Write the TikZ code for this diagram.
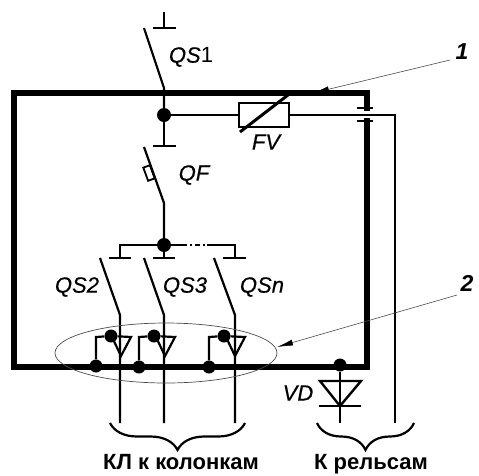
\documentclass[tikz,border=0pt]{standalone}
\usepackage{fontspec}
\setmainfont{Liberation Sans}
\newfontfamily\schemefont[ItalicFeatures={FakeBold=0.4}]{Liberation Sans}
\usetikzlibrary{decorations.pathreplacing,shapes.geometric,arrows.meta}
\begin{document}
\begin{tikzpicture}[x=1pt,y=-1pt,
    wire/.style={line width=2.2pt},
    bar/.style={line width=2.8pt},
    bus/.style={line width=6.5pt,line cap=rect},
    pointer/.style={line width=0.6pt,black!70},
    dot/.style={shape=circle,fill=black,inner sep=0pt,minimum size=14pt},
    smalldot/.style={shape=circle,fill=black,inner sep=0pt,minimum size=13pt},
    label/.style={font=\fontsize{22}{22}\selectfont\schemefont\itshape,inner sep=0pt},
    caption/.style={font=\fontsize{22}{22}\selectfont\bfseries,inner sep=0pt,anchor=base},
    marker/.style={font=\fontsize{23}{23}\selectfont\bfseries\itshape,inner sep=0pt},
    bracket/.style={line width=2.2pt,decorate,decoration={brace,mirror,amplitude=27pt}}]
    \useasboundingbox (0,0) rectangle (479,475);
    \node[dot] (top) at (164,115) {};
    \node[dot] (split) at (164,245) {};
    \node[smalldot] (d1) at (96,366) {};
    \node[smalldot] (d2) at (139,367) {};
    \node[smalldot] (d3) at (209,367) {};
    \node[smalldot] (d4) at (340,365) {};
    \node[smalldot] (g1) at (111,336) {};
    \node[smalldot] (g2) at (154,336) {};
    \node[smalldot] (g3) at (224,336) {};
    \node[draw=black,line width=2.4pt,minimum width=50pt,minimum height=24pt,inner sep=0pt] (fv) at (264,115) {};

    \coordinate (nw) at (14,93);
    \coordinate (ne) at (367,93);
    \coordinate (sw) at (14,367);
    \coordinate (se) at (367,367);
    \coordinate (capa) at (367,108);
    \coordinate (capb) at (367,121);
    \coordinate (railtop) at (395,115);
    \coordinate (railend) at (395,423);
    \coordinate (one) at (450,60);
    \coordinate (onetip) at (313,93);
    \coordinate (two) at (457,295);
    \coordinate (twotip) at (277,347);

    % frame
    \draw[bus] (capa) -- (ne) -- (nw) -- (sw) -- (se) -- (capb);
    \draw[bar] (357,108) -- (373,108);
    \draw[bar] (357,121) -- (373,121);

    % incoming
    \draw[wire] (164,12) -- (164,28);
    \draw[bar] (153,28) -- (176,28);
    \draw[wire] (144,28) -- (164,88) -- (top);
    \draw[wire] (top) -- (164,146);
    \draw[bar] (153,146) -- (176,146);
    \draw[wire] (top) -- (fv) -- (railtop) -- (railend);
    \draw[line width=3pt] (240,132) -- (288,95);
    \node[label] (fvtext) at (266,142) {FV};
    \node[label] (qs1) at (191,57) {QS{\upshape 1}};

    % breaker
    \draw[wire] (144,147) -- (164,203) -- (split);
    \draw[line width=1.8pt,rotate around={20:(149,173)}] (145.5,166) rectangle (152.5,180);
    \node[label] (qf) at (194,175) {QF};

    % feeders
    \draw[wire] (120,258) -- (120,245) -- (split);
    \draw[wire] (split) -- (164,258);
    \draw[wire] (split) -- (182,245);
    \draw[wire,dash pattern=on 5pt off 3pt on 2pt off 3pt] (182,245) -- (207,245);
    \draw[wire] (207,245) -- (235,245) -- (235,258);
    \draw[bar] (109,258) -- (131,258);
    \draw[bar] (153,258) -- (175,258);
    \draw[bar] (223,258) -- (246,258);
    \draw[wire] (100,258) -- (120,315) -- (120,423);
    \draw[wire] (144,258) -- (164,315) -- (164,423);
    \draw[wire] (214,258) -- (235,315) -- (235,423);
    \node[label] (qs2) at (77,287) {QS2};
    \node[label] (qs3) at (185,287) {QS3};
    \node[label] (qsn) at (262,287) {QS\textit{n}};

    % diodes
    \draw[wire] (d1) -- (96,337) -- (g1);
    \draw[wire] (d2) -- (139,337) -- (g2);
    \draw[wire] (d3) -- (209,337) -- (g3);
    \draw[wire] (g1) -- (131,337) -- (121,356) -- (112,337);
    \draw[wire] (g2) -- (175,337) -- (165,356) -- (156,337);
    \draw[wire] (g3) -- (245,337) -- (235,356) -- (226,337);

    % rail diode
    \draw[wire] (d4) -- (340,423);
    \draw[line width=2.4pt] (320,381) -- (361,381) -- (340,406) -- cycle;
    \draw[line width=2.4pt] (319,406) -- (361,406);
    \node[label] (vd) at (298,393) {VD};

    % ellipse and pointers
    \node[draw=black!70,line width=0.7pt,shape=ellipse,minimum width=222pt,minimum height=60pt,inner sep=0pt] (group) at (166,353) {};
    \draw[pointer,-{Latex[black,length=16pt,width=6pt]}] (one) -- (onetip);
    \draw[pointer,-{Latex[black,length=16pt,width=6pt]}] (two) -- (twotip);
    \node[marker] (mark1) at (462,52) {1};
    \node[marker] (mark2) at (467,283) {2};

    % braces
    \draw[bracket] (110,423) -- (245,423);
    \draw[bracket] (317,423) -- (414,423);
    \node[caption] (cable) at (181,469.5) {КЛ к колонкам};
    \node[caption] (rails) at (371,469.5) {К рельсам};
\end{tikzpicture}
\end{document}
